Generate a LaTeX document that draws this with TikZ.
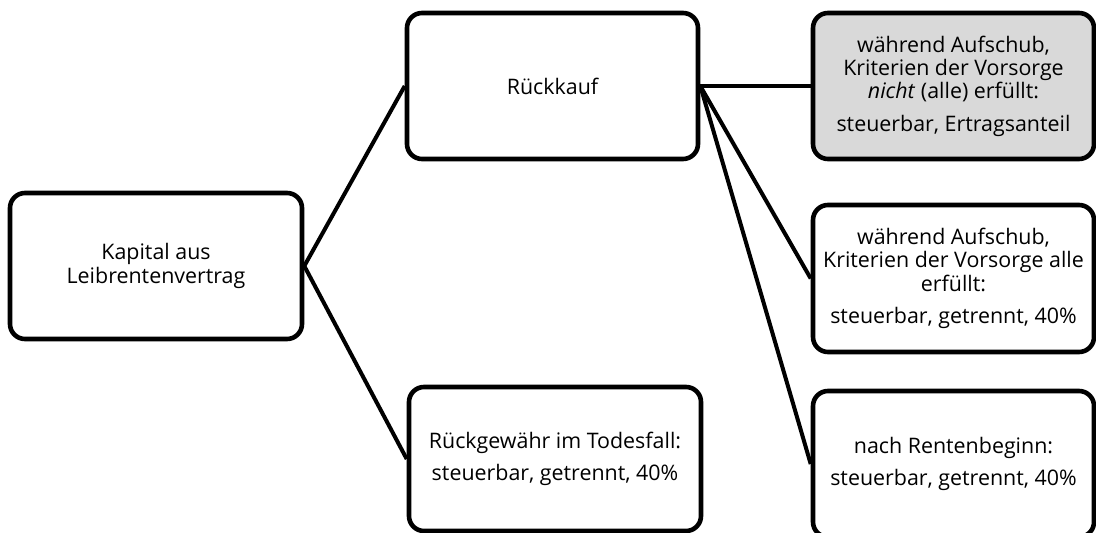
\documentclass[tikz,border=0pt]{standalone}
\usepackage{fontspec}
\setmainfont{Open Sans}
\definecolor{boxgray}{HTML}{D9D9D9}
\tikzset{
  box/.style={draw=black, line width=2.3pt, rounded corners=7.5pt, fill=white,
    align=center, inner sep=0pt, font=\fontsize{10.7}{11.7}\selectfont},
  conn/.style={line width=2pt, black}
}
\begin{document}
\begin{tikzpicture}[x=0.5pt,y=-0.5pt]
\useasboundingbox (0,0) rectangle (1096,533);
\node[box, minimum width=146pt, minimum height=73pt] (kap) at (156,266)
  {Kapital aus\\Leibrentenvertrag};
\node[box, minimum width=145.5pt, minimum height=73pt] (rk) at (552.5,86)
  {Rückkauf};
\node[box, minimum width=146pt, minimum height=72pt] (rg) at (555,459)
  {Rückgewähr im Todesfall:\\[4pt]steuerbar, getrennt, 40\%};
\node[box, fill=boxgray, minimum width=140.5pt, minimum height=73pt] (ng) at (953.5,86)
  {während Aufschub,\\Kriterien der Vorsorge\\\textit{nicht} (alle) erfüllt:\\[4.5pt]steuerbar, Ertragsanteil};
\node[box, minimum width=140.5pt, minimum height=73.5pt] (ag) at (953.5,278.5)
  {während Aufschub,\\Kriterien der Vorsorge alle\\erfüllt:\\[4.5pt]steuerbar, getrennt, 40\%};
\node[box, minimum width=140.5pt, minimum height=73pt] (rb) at (953.5,464)
  {nach Rentenbeginn:\\[4pt]steuerbar, getrennt, 40\%};
\draw[conn] (kap.east) -- (rk.west);
\draw[conn] (kap.east) -- (rg.west);
\draw[conn] (rk.east) -- (ng.west);
\draw[conn] (rk.east) -- (ag.west);
\draw[conn] (rk.east) -- (rb.west);
\end{tikzpicture}
\end{document}
